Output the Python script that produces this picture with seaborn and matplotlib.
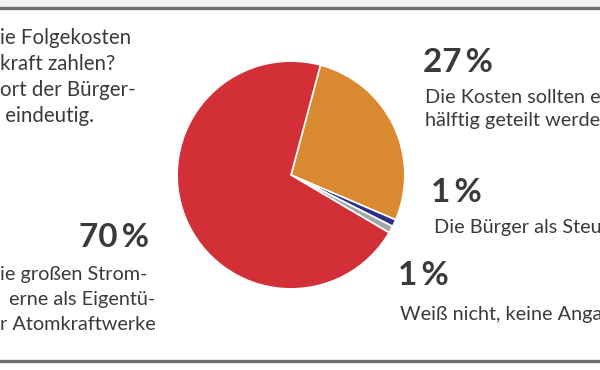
import matplotlib
matplotlib.use("Agg")
import matplotlib.pyplot as plt
import seaborn as sns

# survey shares (percent), in drawing order clockwise from the top
shares = [27, 1, 1, 70]
pct_labels = ["27\u2009%", "1\u2009%", "1\u2009%", "70\u2009%"]
answers = [
    ["Die Kosten sollten etwa", "hälftig geteilt werden"],
    ["Die Bürger als Steuerzahler"],
    ["Weiß nicht, keine Angabe"],
    ["ie großen Strom-", "erne als Eigentü-", "r Atomkraftwerke"],
]
intro = ["ie Folgekosten", "kraft zahlen?", "ort der Bürger-", " eindeutig."]
colors = ["#d98a30", "#2e2f86", "#a3a7ab", "#d22f36"]

sns.set_theme(style="white")
plt.rcParams["font.family"] = ["Lato", "DejaVu Sans"]
txt = "#3a3a3a"
body = 14.3

fig = plt.figure(figsize=(6, 3.7), dpi=100)
W, H = 600, 370

def px(x, y):
    return x / W, 1 - y / H

# pie, center (291,175) r=115 px
ax = fig.add_axes([176 / W, 1 - 290 / H, 230 / W, 230 / H])
ax.pie(shares, colors=colors, startangle=75, counterclock=False,
       wedgeprops=dict(edgecolor="white", linewidth=1.2))
ax.set_xlim(-1.01, 1.01)
ax.set_ylim(-1.01, 1.01)
ax.set_aspect("equal")
ax.axis("off")

# frame lines top and bottom
fig.add_artist(plt.Line2D([0, 1], [1 - 7.5 / H] * 2, color="#6e6e6e", lw=2.4,
                          transform=fig.transFigure))
fig.add_artist(plt.Line2D([0, 1], [1 - 360.5 / H] * 2, color="#6e6e6e", lw=2.4,
                          transform=fig.transFigure))
fig.add_artist(plt.Rectangle((0, 1 - 6 / H), 1, 6 / H, color="#f2f2f2",
                             transform=fig.transFigure, zorder=-1))

# intro text (cut at the left edge)
for i, line in enumerate(intro):
    fig.text(*px(0, 44 + i * 26), line, fontsize=14.8, color=txt, va="baseline")

# 27 %
fig.text(*px(423, 72), pct_labels[0], fontsize=24, fontweight="bold", color=txt,
         va="baseline")
for i, line in enumerate(answers[0]):
    fig.text(*px(425, 103 + i * 23), line, fontsize=body, color=txt, va="baseline")

# 1 % Bürger
fig.text(*px(431, 202), pct_labels[1], fontsize=24, fontweight="bold", color=txt,
         va="baseline")
fig.text(*px(434, 233), answers[1][0], fontsize=body, color=txt, va="baseline")

# 1 % weiß nicht
fig.text(*px(398, 285), pct_labels[2], fontsize=24, fontweight="bold", color=txt,
         va="baseline")
fig.text(*px(400, 320), answers[2][0], fontsize=body, color=txt, va="baseline")

# 70 %
fig.text(*px(149, 247), pct_labels[3], fontsize=24, fontweight="bold", color=txt,
         va="baseline", ha="right")
for i, (x0, line) in enumerate(zip([0, 9, 0], answers[3])):
    fig.text(*px(x0, 280 + i * 25), line, fontsize=body, color=txt, va="baseline")

fig.savefig("out.png", dpi=100, facecolor="white")
